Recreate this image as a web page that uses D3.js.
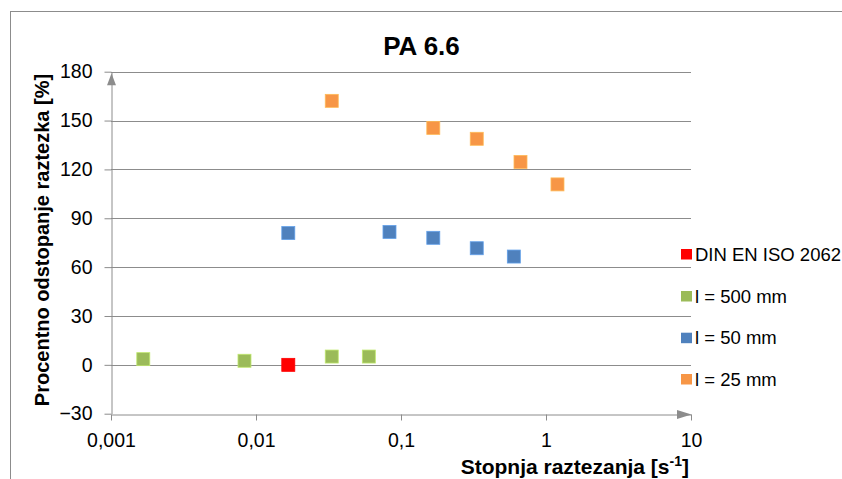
<!DOCTYPE html>
<html lang="en">
<head>
    <meta charset="UTF-8">
    <title>PA 6.6</title>
    <script src="https://d3js.org/d3.v7.min.js"></script>
    <style>
        body {
            margin: 0;
            padding: 0;
            background-color: #fff;
            font-family: 'Liberation Sans', Arial, sans-serif;
        }
        .grid line {
            stroke: #8c8c8c;
            stroke-width: 1px;
        }
        .axis path, .axis line {
            stroke: #8c8c8c;
            stroke-width: 1px;
        }
        .axis text {
            font-family: 'Liberation Sans', Arial, sans-serif;
            font-size: 19.5px;
            fill: #000;
        }
    </style>
</head>
<body>
    <div id="chart"></div>

    <script>
        // Data
        const seriesNames = ["DIN EN ISO 2062", "l = 500 mm", "l = 50 mm", "l = 25 mm"];
        const seriesColors = ["#ff0000", "#9bbb59", "#4f81bd", "#f79646"];

        const dinX = [0.0167];
        const dinY = [0];
        const l500X = [0.00167, 0.00833, 0.0333, 0.06];
        const l500Y = [3.5, 2.5, 5.1, 5.1];
        const l50X = [0.0167, 0.0833, 0.167, 0.333, 0.6];
        const l50Y = [80.9, 81.6, 78.0, 71.6, 66.5];
        const l25X = [0.0333, 0.167, 0.333, 0.667, 1.2];
        const l25Y = [162.1, 145.5, 138.8, 124.6, 110.8];

        const xTicks = [0.001, 0.01, 0.1, 1, 10];
        const xTickLabels = ["0,001", "0,01", "0,1", "1", "10"];
        const yTicks = [-30, 0, 30, 60, 90, 120, 150, 180];

        const seriesX = [dinX, l500X, l50X, l25X];
        const seriesY = [dinY, l500Y, l50Y, l25Y];

        const width = 842;
        const height = 479;
        const plot = { left: 111, right: 691, top: 71.7, bottom: 413.7 };

        const svg = d3.select("#chart")
            .append("svg")
            .attr("width", width)
            .attr("height", height);

        // outer chart frame (cut off on the right and bottom)
        svg.append("rect")
            .attr("x", 10.5)
            .attr("y", 11.5)
            .attr("width", 860)
            .attr("height", 500)
            .attr("fill", "none")
            .attr("stroke", "#8c8c8c")
            .attr("stroke-width", 1);

        const x = d3.scaleLog().domain([0.001, 10]).range([plot.left, plot.right]);
        const y = d3.scaleLinear().domain([-30, 180]).range([plot.bottom, plot.top]);

        // horizontal gridlines
        svg.append("g")
            .attr("class", "grid")
            .selectAll("line")
            .data(yTicks.filter(d => d !== -30))
            .enter().append("line")
            .attr("x1", plot.left)
            .attr("x2", plot.right)
            .attr("y1", d => Math.round(y(d)) + 0.5)
            .attr("y2", d => Math.round(y(d)) + 0.5);

        // axes
        const xAxis = d3.axisBottom(x)
            .tickValues(xTicks)
            .tickFormat((d, i) => xTickLabels[i])
            .tickSizeInner(6)
            .tickSizeOuter(0)
            .tickPadding(13);

        svg.append("g")
            .attr("class", "axis")
            .attr("transform", `translate(0,${Math.round(y(-30)) + 0.5})`)
            .call(xAxis);

        const yAxis = d3.axisLeft(y)
            .tickValues(yTicks)
            .tickSizeInner(7)
            .tickSizeOuter(0)
            .tickPadding(12);

        svg.append("g")
            .attr("class", "axis")
            .attr("transform", `translate(${plot.left + 0.5},0)`)
            .call(yAxis);

        svg.selectAll(".axis .domain").attr("stroke", "#8c8c8c");

        // arrow heads
        const ax = plot.left + 0.5;
        svg.append("path")
            .attr("d", `M${ax},${y(180) + 1.5}L${ax - 4.5},${y(180) + 13.5}L${ax + 4.5},${y(180) + 13.5}Z`)
            .attr("fill", "#8c8c8c");
        const ay = Math.round(y(-30)) + 0.5;
        svg.append("path")
            .attr("d", `M${x(10) + 0.5},${ay}L${x(10) - 14},${ay - 4.5}L${x(10) - 14},${ay + 4.5}Z`)
            .attr("fill", "#8c8c8c");

        // markers
        const pts = [];
        seriesX.forEach((xs, s) => {
            xs.forEach((v, i) => pts.push({ s: s, x: v, y: seriesY[s][i] }));
        });

        const size = 13;
        svg.append("g")
            .selectAll("rect")
            .data(pts)
            .enter().append("rect")
            .attr("x", d => x(d.x) - size / 2)
            .attr("y", d => y(d.y) - size / 2)
            .attr("width", size)
            .attr("height", size)
            .attr("fill", d => seriesColors[d.s])
            .attr("stroke", d => d3.color(seriesColors[d.s]).brighter(0.6))
            .attr("stroke-width", 0.8);

        // title
        svg.append("text")
            .attr("x", 421.5)
            .attr("y", 55)
            .attr("text-anchor", "middle")
            .style("font-size", "26px")
            .style("font-weight", "bold")
            .text("PA 6.6");

        // y axis label
        svg.append("text")
            .attr("transform", "translate(48.5,240) rotate(-90)")
            .attr("text-anchor", "middle")
            .style("font-size", "20px")
            .style("font-weight", "bold")
            .text("Procentno odstopanje raztezka [%]");

        // x axis label
        const xl = svg.append("text")
            .attr("x", 689)
            .attr("y", 474)
            .attr("text-anchor", "end")
            .style("font-size", "21px")
            .style("font-weight", "bold");
        xl.append("tspan").text("Stopnja raztezanja [s");
        xl.append("tspan").attr("dy", -8).style("font-size", "14px").text("-1");
        xl.append("tspan").attr("dy", 8).text("]");

        // legend
        const legendY = [254, 296, 337.7, 379];
        const legend = svg.append("g")
            .selectAll("g")
            .data(seriesNames)
            .enter().append("g")
            .attr("transform", (d, i) => `translate(681,${legendY[i]})`);

        legend.append("rect")
            .attr("x", 0)
            .attr("y", -5)
            .attr("width", 11)
            .attr("height", 10.5)
            .attr("fill", (d, i) => seriesColors[i]);

        legend.append("text")
            .attr("x", 14)
            .attr("y", 6.5)
            .style("font-size", "18.5px")
            .text(d => d);
    </script>
</body>
</html>
